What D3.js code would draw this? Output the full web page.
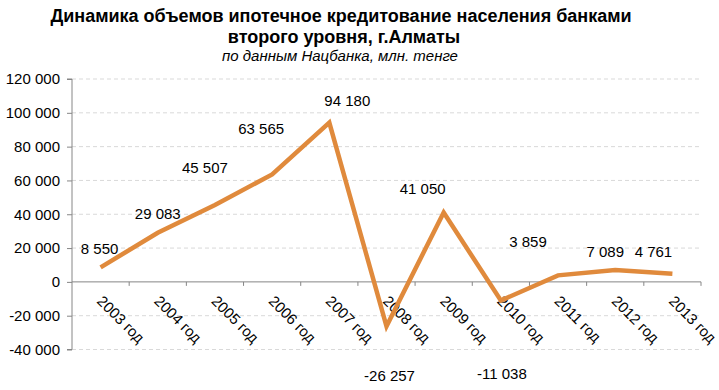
<!DOCTYPE html>
<html><head><meta charset="utf-8">
<script src="https://cdn.jsdelivr.net/npm/d3@7"></script>
<style>
html,body{margin:0;padding:0;background:#fff;}
svg{display:block;font-family:"Liberation Sans",Arial,sans-serif;}
</style></head><body>
<svg id="c" width="719" height="390"></svg>
<script>
const categories = ["2003 год","2004 год","2005 год","2006 год","2007 год","2008 год","2009 год","2010 год","2011 год","2012 год","2013 год"];
const values = [8550, 29083, 45507, 63565, 94180, -26257, 41050, -11038, 3859, 7089, 4761];
const yTicks = [-40000, -20000, 0, 20000, 40000, 60000, 80000, 100000, 120000];
const titleLines = ["Динамика объемов ипотечное кредитование населения банками", "второго уровня, г.Алматы"];
const subtitle = "по данным Нацбанка, млн. тенге";
// layout: label offsets from each point (px)
const labelDx = [-1, 0, -10, -11, 18, 3, -21, 1, -30, -10, -19];
const labelDy = [-19, -19, -37, -46, -22, 49, -24, 73, -34, -18, -22];

const svg = d3.select("#c");
const L = 72, R = 701;
const x = d3.scaleBand().domain(categories).range([L, R]);
const y = d3.scaleLinear().domain([-40000, 120000]).range([349.5, 79]);
const loc = d3.formatLocale({decimal: ",", thousands: " ", grouping: [3], currency: ["", ""], minus: "-"});
const fmt = loc.format(",");

// title
svg.append("text").attr("x", 341).attr("y", 22).attr("text-anchor","middle")
  .attr("font-size", 18).attr("font-weight","bold").attr("fill","#000").text(titleLines[0]);
svg.append("text").attr("x", 344).attr("y", 43).attr("text-anchor","middle")
  .attr("font-size", 18).attr("font-weight","bold").attr("fill","#000").text(titleLines[1]);
svg.append("text").attr("x", 340).attr("y", 61).attr("text-anchor","middle")
  .attr("font-size", 15).attr("font-style","italic").attr("fill","#000").text(subtitle);

// gridlines
svg.append("g").selectAll("line").data(yTicks.filter(d => d !== 0)).join("line")
  .attr("x1", L).attr("x2", R).attr("y1", d => y(d)).attr("y2", d => y(d))
  .attr("stroke", "#d9d9d9").attr("stroke-width", 1).attr("stroke-dasharray", "4,3");

// y axis
const yAxis = d3.axisLeft(y).tickValues(yTicks).tickSize(5).tickPadding(7).tickFormat(fmt);
const gy = svg.append("g").attr("transform", `translate(${L},0)`).call(yAxis);
gy.select(".domain").attr("stroke", "#868686").attr("d", `M-5,${y(120000)}H0V${y(-40000)}H-5`);
gy.selectAll(".tick line").attr("stroke", "#868686");
gy.selectAll(".tick text").attr("font-size", 15).attr("fill","#000")
  .attr("font-family", '"Liberation Sans",Arial,sans-serif');

// x axis at zero
const gx = svg.append("g");
gx.append("line").attr("x1", L).attr("x2", R).attr("y1", y(0)).attr("y2", y(0)).attr("stroke", "#868686");
const bounds = categories.map(c => x(c)).concat([R]);
gx.selectAll("line.tk").data(bounds.slice(1)).join("line").attr("class","tk")
  .attr("x1", d => d).attr("x2", d => d).attr("y1", y(0)).attr("y2", y(0) + 4).attr("stroke", "#868686");
gx.selectAll("text").data(categories).join("text")
  .attr("transform", d => `translate(${x(d) + x.bandwidth()/2 - 4.5},302) rotate(45)`)
  .attr("font-size", 15).attr("fill", "#000").text(d => d);

// line
const pts = categories.map((c, i) => [x(c) + x.bandwidth()/2, y(values[i])]);
svg.append("path").datum(pts).attr("d", d3.line())
  .attr("fill", "none").attr("stroke", "#E08A3C").attr("stroke-width", 4.5)
  .attr("stroke-linejoin", "miter").attr("stroke-linecap", "butt");

// data labels
svg.append("g").selectAll("text").data(values).join("text")
  .attr("x", (d, i) => pts[i][0] + labelDx[i])
  .attr("y", (d, i) => pts[i][1] + labelDy[i] + 5.5)
  .attr("text-anchor", "middle").attr("font-size", 15).attr("fill", "#000")
  .text(d => fmt(d));
</script></body></html>
